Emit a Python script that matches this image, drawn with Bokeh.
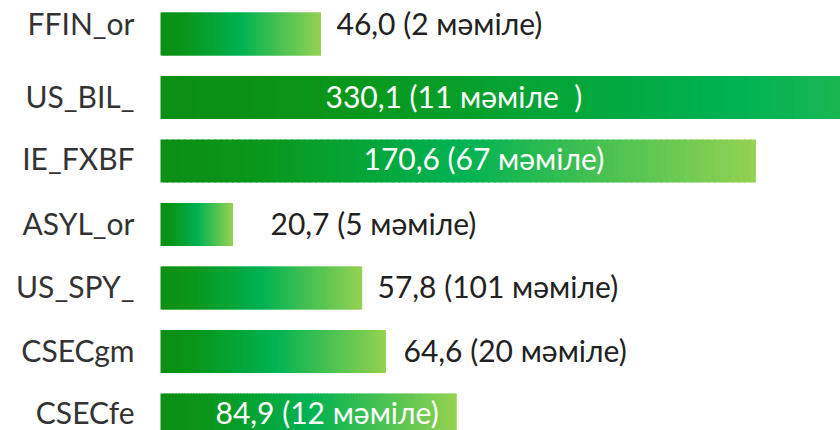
from bokeh.plotting import figure
from bokeh.models import Range1d, ColumnDataSource
from bokeh.core.properties import value
from bokeh.embed import file_html
from bokeh.resources import INLINE

categories = ["FFIN_or", "US_BIL_", "IE_FXBF", "ASYL_or", "US_SPY_", "CSECgm", "CSECfe"]
values = [46.0, 330.1, 170.6, 20.7, 57.8, 64.6, 84.9]
labels = ["46,0 (2 мәміле)", "330,1 (11 мәміле \u00a0)", "170,6 (67 мәміле)", "20,7 (5 мәміле)",
          "57,8 (101 мәміле)", "64,6 (20 мәміле)", "84,9 (12 мәміле)"]
inside = [False, True, True, False, False, False, True]

# label left edge, pixels from bar start; vertical nudge in pixels (negative = up)
label_px = [176, 165, 203, 110, 217, 243, 55]
label_dy = [-11, -2, -3, -2, -2, -2, -3]

FONT = "Lato"
SIZE = "30px"
PX_PER_UNIT = 3.49

p = figure(width=840, height=430, output_backend="svg", toolbar_location=None,
           x_axis_type=None, y_axis_type=None,
           x_range=Range1d(-160 / PX_PER_UNIT, 680 / PX_PER_UNIT),
           y_range=Range1d(-396.5 / 63.5, 33.5 / 63.5),
           min_border_left=0, min_border_right=0, min_border_top=0, min_border_bottom=0)
p.outline_line_color = None
p.grid.visible = False
p.background_fill_color = "white"
p.border_fill_color = "white"

ys = [-i for i in range(len(categories))]

# gradient
stops = [(0.0, (11, 143, 20)), (0.15, (10, 150, 25)), (0.5, (0, 178, 82)), (1.0, (148, 210, 82))]

def color_at(f):
    for (a, ca), (b, cb) in zip(stops[:-1], stops[1:]):
        if a <= f <= b:
            t = (f - a) / (b - a)
            c = [round(ca[j] + (cb[j] - ca[j]) * t) for j in range(3)]
            return "#%02x%02x%02x" % tuple(c)
    return "#%02x%02x%02x" % stops[-1][1]

N = 100
L, R, T, B, C = [], [], [], [], []
h = 43 / 63.5
for v, y in zip(values, ys):
    for k in range(N):
        L.append(v * k / N)
        R.append(min(v, v * (k + 1) / N + 1.5 / PX_PER_UNIT))
        T.append(y + h / 2)
        B.append(y - h / 2)
        C.append(color_at((k + 0.5) / N))
src = ColumnDataSource(dict(left=L, right=R, top=T, bottom=B, color=C))
p.quad(left="left", right="right", top="top", bottom="bottom", source=src,
       fill_color="color", line_color=None)

tsrc = ColumnDataSource(dict(
    x=[0] * len(values), y=ys, text=labels, off=label_px, dy=label_dy,
    color=["#ffffff" if i else "#222222" for i in inside]))
p.text(x="x", y="y", text="text", x_offset="off", y_offset="dy", source=tsrc,
       text_color="color", text_font=value(FONT), text_font_size=SIZE,
       text_align="left", text_baseline="middle")

csrc = ColumnDataSource(dict(x=[0] * len(categories), y=ys, text=categories, dy=label_dy))
p.text(x="x", y="y", text="text", y_offset="dy", x_offset=-26, source=csrc,
       text_color="#333333", text_font=value(FONT), text_font_size=SIZE,
       text_align="right", text_baseline="middle")

open("out.html", "w").write(file_html(p, INLINE))
